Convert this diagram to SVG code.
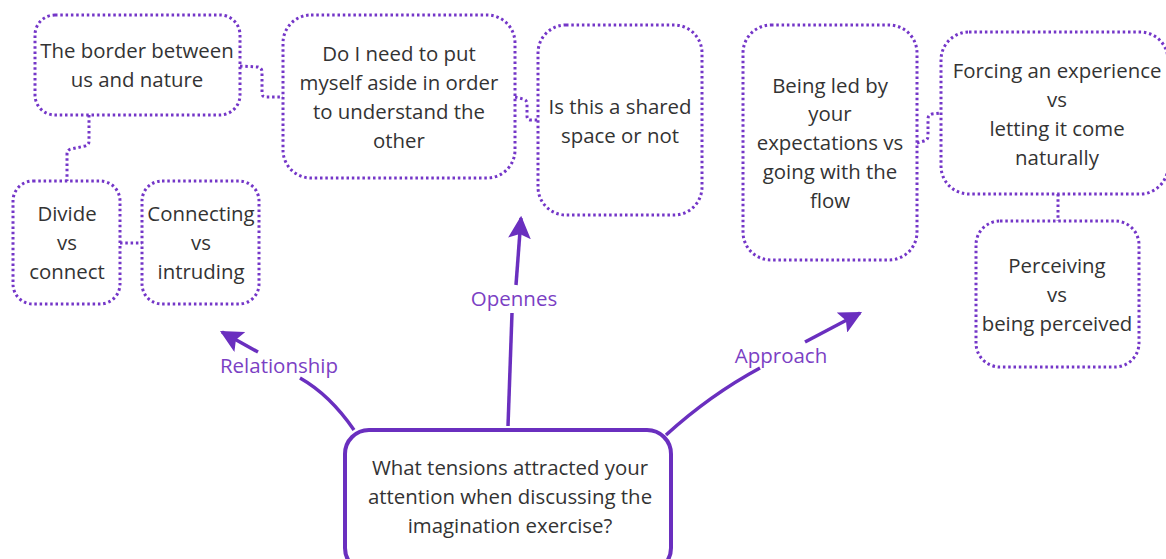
<svg xmlns="http://www.w3.org/2000/svg" width="1166" height="559" viewBox="0 0 1166 559">
<defs>
<style>
.box{fill:#fff;stroke:#7436c8;stroke-width:3;stroke-dasharray:2.5 2.8;}
.main{fill:#fff;stroke:#6a2fbf;stroke-width:4;}
.dot{fill:none;stroke:#7436c8;stroke-width:3;stroke-dasharray:2.5 2.8;}
.arr{fill:none;stroke:#6a2fbf;stroke-width:3.5;}
.t{font-family:"Open Sans","Noto Sans",sans-serif;font-size:20.4px;fill:#333;text-anchor:middle;}
.lbl{font-family:"Open Sans","Noto Sans",sans-serif;font-size:20.5px;fill:#7b3fc4;text-anchor:middle;}
</style>
<marker id="ah2" viewBox="0 0 10 10" refX="9" refY="5" markerWidth="6.5" markerHeight="6.5" orient="auto">
<path d="M0,0 L10,5 L0,10 L2,5 z" fill="#6a2fbf"/>
</marker>
</defs>
<rect width="1166" height="559" fill="#fff"/>
<g id="connectors">
<path class="dot" d="M240,66 L258,67 Q262,68 262,72 L262,93 Q262,97 266,97 L283,97"/>
<path class="dot" d="M515,97 L523,99 Q527,100 527,104 L527,116 Q527,120 531,120 L538,120"/>
<path class="dot" d="M89,115 L89,141 Q89,145 85,146 L71,149 Q67,150 67,154 L67,181"/>
<path class="dot" d="M120,243 L142,243"/>
<path class="dot" d="M917,143 L924,141 Q928,140 928,136 L928,119 Q928,115 932,114 L941,113"/>
<path class="dot" d="M1058,194 L1058,221"/>
<path class="arr" d="M354,430 Q330,395 300,378" />
<path class="arr" d="M258,352 L222,332" marker-end="url(#ah2)"/>
<path class="arr" d="M508,426 L512,313"/>
<path class="arr" d="M516,285 L521,218" marker-end="url(#ah2)"/>
<path class="arr" d="M666,435 Q710,395 760,368"/>
<path class="arr" d="M805,342 L860,313" marker-end="url(#ah2)"/>
<text class="lbl" x="279" y="373">Relationship</text>
<text class="lbl" x="514" y="306">Opennes</text>
<text class="lbl" x="781" y="363">Approach</text>
</g>
<g id="n-border">
<rect class="box" x="35" y="15" width="205" height="100" rx="20"/>
<text class="t" x="137" y="58">The border between</text>
<text class="t" x="137" y="87">us and nature</text>
</g>
<g id="n-divide">
<rect class="box" x="13" y="181" width="107" height="123" rx="20"/>
<text class="t" x="67" y="221">Divide</text>
<text class="t" x="67" y="250">vs</text>
<text class="t" x="67" y="279">connect</text>
</g>
<g id="n-connecting">
<rect class="box" x="142" y="181" width="117" height="123" rx="20"/>
<text class="t" x="201" y="221">Connecting</text>
<text class="t" x="201" y="250">vs</text>
<text class="t" x="201" y="279">intruding</text>
</g>
<g id="n-doi">
<rect class="box" x="283" y="15" width="232" height="163" rx="28"/>
<text class="t" x="399" y="61">Do I need to put</text>
<text class="t" x="399" y="90">myself aside in order</text>
<text class="t" x="399" y="119">to understand the</text>
<text class="t" x="399" y="148">other</text>
</g>
<g id="n-shared">
<rect class="box" x="538" y="25" width="164" height="190" rx="28"/>
<text class="t" x="620" y="114">Is this a shared</text>
<text class="t" x="620" y="143">space or not</text>
</g>
<g id="n-led">
<rect class="box" x="743" y="25" width="174" height="235" rx="28"/>
<text class="t" x="830" y="93">Being led by</text>
<text class="t" x="830" y="121">your</text>
<text class="t" x="830" y="150">expectations vs</text>
<text class="t" x="830" y="179">going with the</text>
<text class="t" x="830" y="208">flow</text>
</g>
<g id="n-forcing">
<rect class="box" x="941" y="32" width="227" height="162" rx="28"/>
<text class="t" x="1057" y="78">Forcing an experience</text>
<text class="t" x="1057" y="107">vs</text>
<text class="t" x="1057" y="136">letting it come</text>
<text class="t" x="1057" y="165">naturally</text>
</g>
<g id="n-perceiving">
<rect class="box" x="976" y="221" width="163" height="146" rx="24"/>
<text class="t" x="1057" y="273">Perceiving</text>
<text class="t" x="1057" y="302">vs</text>
<text class="t" x="1057" y="331">being perceived</text>
</g>
<g id="n-center">
<rect class="main" x="345" y="430" width="326" height="142" rx="24"/>
<text class="t" x="510" y="475">What tensions attracted your</text>
<text class="t" x="510" y="504">attention when discussing the</text>
<text class="t" x="510" y="533">imagination exercise?</text>
</g>
</svg>
